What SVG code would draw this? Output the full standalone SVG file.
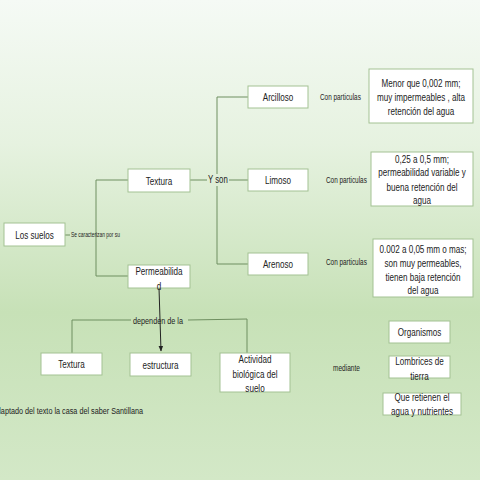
<svg xmlns="http://www.w3.org/2000/svg" width="480" height="480" viewBox="0 0 480 480">
<defs>
<linearGradient id="bg" x1="0" y1="0" x2="0" y2="1">
<stop offset="0" stop-color="#f5faf5"/>
<stop offset="0.3" stop-color="#e6f2e0"/>
<stop offset="0.65" stop-color="#c7e1b7"/>
<stop offset="1" stop-color="#d3e8c7"/>
</linearGradient>
<marker id="arr" viewBox="0 0 10 10" refX="9" refY="5" markerWidth="6" markerHeight="6" orient="auto">
<path d="M0,1 L10,5 L0,9 z" fill="#222"/>
</marker>
<style>
.box{fill:#fff;stroke:#a3c293;stroke-width:1}
.t{font-family:"Liberation Sans",Arial,sans-serif;font-size:10.5px;fill:#222;text-anchor:middle}
.s{font-family:"Liberation Sans",Arial,sans-serif;fill:#222}
.ln{fill:none;stroke:#6f8f60;stroke-width:1}
</style>
</defs>
<rect width="480" height="480" fill="url(#bg)"/>

<g id="connectors">
<path class="ln" d="M65,235 H70"/>
<path class="ln" d="M128,180 H96 V276 H128"/>
<path class="ln" d="M190,180 H207"/>
<path class="ln" d="M229,180 H248"/>
<path class="ln" d="M248,97 H217 V174"/>
<path class="ln" d="M217,186 V264 H248"/>
<path class="ln" d="M131,320 H72 V353"/>
<path class="ln" d="M188,320 L247,319 V353"/>
<path d="M159,288 L161,351" stroke="#222" stroke-width="1" fill="none" marker-end="url(#arr)"/>
<text class="s" font-size="6.3" transform="translate(71,237) scale(0.78,1)">Se caracterizan por su</text>
<text class="s" font-size="10" transform="translate(208,183) scale(0.78,1)">Y son</text>
<text class="s" font-size="8.2" transform="translate(320,100) scale(0.78,1)">Con particulas</text>
<text class="s" font-size="8.2" transform="translate(326,183) scale(0.78,1)">Con particulas</text>
<text class="s" font-size="8.2" transform="translate(326,265) scale(0.78,1)">Con particulas</text>
<text class="s" font-size="9.3" transform="translate(133,324) scale(0.78,1)">dependen de la</text>
<text class="s" font-size="8.4" transform="translate(333,371) scale(0.78,1)">mediante</text>
</g>

<g id="los-suelos"><rect class="box" x="4" y="223" width="61" height="23"/><text class="t" transform="translate(34.5,238.5) scale(0.77,1)">Los suelos</text></g>
<g id="textura"><rect class="box" x="128" y="169" width="62" height="23"/><text class="t" transform="translate(159,184.5) scale(0.77,1)">Textura</text></g>
<g id="permeabilidad"><rect class="box" x="128" y="265" width="62" height="23"/><text class="t" transform="translate(159,275) scale(0.77,1)">Permeabilida</text><text class="t" transform="translate(159,290) scale(0.77,1)">d</text></g>
<g id="arcilloso"><rect class="box" x="248" y="86" width="60" height="22"/><text class="t" transform="translate(278,101) scale(0.77,1)">Arcilloso</text></g>
<g id="limoso"><rect class="box" x="248" y="169" width="60" height="22"/><text class="t" transform="translate(278,184) scale(0.77,1)">Limoso</text></g>
<g id="arenoso"><rect class="box" x="248" y="253" width="60" height="22"/><text class="t" transform="translate(278,268) scale(0.77,1)">Arenoso</text></g>
<g id="desc-arcilloso"><rect class="box" x="369" y="69" width="104" height="54"/>
<text class="t" transform="translate(421,87) scale(0.77,1)">Menor que 0,002 mm;</text>
<text class="t" transform="translate(421,101) scale(0.77,1)">muy impermeables , alta</text>
<text class="t" transform="translate(421,115) scale(0.77,1)">retención del agua</text></g>
<g id="desc-limoso"><rect class="box" x="371" y="152" width="102" height="54"/>
<text class="t" transform="translate(422,162.5) scale(0.77,1)">0,25 a 0,5 mm;</text>
<text class="t" transform="translate(422,176) scale(0.77,1)">permeabilidad variable y</text>
<text class="t" transform="translate(422,190.5) scale(0.77,1)">buena retención del</text>
<text class="t" transform="translate(422,204) scale(0.77,1)">agua</text></g>
<g id="desc-arenoso"><rect class="box" x="373" y="239" width="100" height="58"/>
<text class="t" transform="translate(423,252.5) scale(0.77,1)">0.002 a 0,05 mm o mas;</text>
<text class="t" transform="translate(423,266.5) scale(0.77,1)">son muy permeables,</text>
<text class="t" transform="translate(423,280.5) scale(0.77,1)">tienen baja retención</text>
<text class="t" transform="translate(423,294) scale(0.77,1)">del agua</text></g>
<g id="textura2"><rect class="box" x="41" y="353" width="61" height="22"/><text class="t" transform="translate(71.5,368) scale(0.77,1)">Textura</text></g>
<g id="estructura"><rect class="box" x="130" y="353" width="61" height="23"/><text class="t" transform="translate(160.5,369) scale(0.77,1)">estructura</text></g>
<g id="actividad"><rect class="box" x="220" y="353" width="70" height="39"/>
<text class="t" transform="translate(255,362.5) scale(0.77,1)">Actividad</text>
<text class="t" transform="translate(255,377.5) scale(0.77,1)">biológica del</text>
<text class="t" transform="translate(255,391.5) scale(0.77,1)">suelo</text></g>
<g id="organismos"><rect class="box" x="389" y="321" width="61" height="22"/><text class="t" transform="translate(419.5,336) scale(0.77,1)">Organismos</text></g>
<g id="lombrices"><rect class="box" x="389" y="356" width="61" height="22"/>
<text class="t" transform="translate(419.5,364.5) scale(0.77,1)">Lombrices de</text>
<text class="t" transform="translate(419.5,379.5) scale(0.77,1)">tierra</text></g>
<g id="que-retienen"><rect class="box" x="383" y="393" width="78" height="22"/>
<text class="t" transform="translate(422,400.5) scale(0.77,1)">Que retienen el</text>
<text class="t" transform="translate(422,414.5) scale(0.77,1)">agua y nutrientes</text></g>
<text class="s" font-size="9.3" transform="translate(-8,414) scale(0.78,1)">Adaptado del texto la casa del saber Santillana</text>
</svg>
